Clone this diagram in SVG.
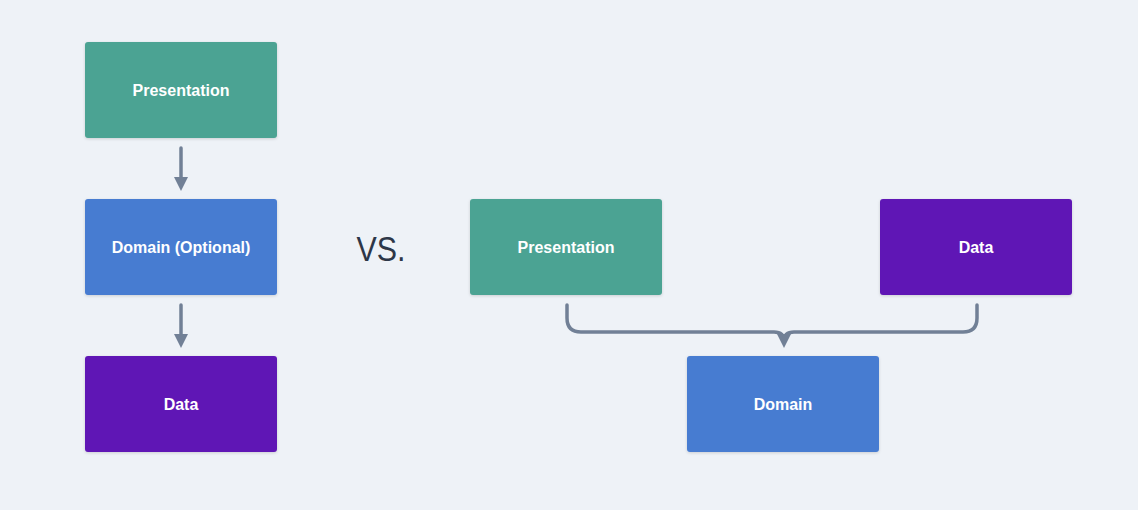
<svg xmlns="http://www.w3.org/2000/svg" width="1138" height="510" viewBox="0 0 1138 510">
<style>
.box{stroke:none;filter:url(#sh)}
.lbl{font-family:"Liberation Sans",Arial,sans-serif;font-weight:bold;font-size:16px;fill:#ffffff;text-anchor:middle;dominant-baseline:central}
.con{fill:none;stroke:#718096;stroke-width:3.5;stroke-linecap:round;stroke-linejoin:round}
.green{fill:#4ba393}.blue{fill:#477cd1}.purple{fill:#5f19b5}
</style>
<defs>
<filter id="sh" x="-10%" y="-10%" width="120%" height="130%">
<feDropShadow dx="0" dy="1" stdDeviation="1.5" flood-color="#000" flood-opacity="0.15"/>
</filter>
<marker id="ah" viewBox="0 0 10 10" refX="5" refY="5" markerWidth="4" markerHeight="4" orient="auto" markerUnits="strokeWidth">
<path d="M0,0 L10,5 L0,10 Z" fill="#718096"/>
</marker>
</defs>
<rect width="1138" height="510" fill="#eef2f7"/>
<g id="connectors">
<path class="con" d="M181,148 V184" marker-end="url(#ah)"/>
<path class="con" d="M181,305 V341" marker-end="url(#ah)"/>
<path class="con" d="M567,305 V318 Q567,332 581,332 H774 Q784,332 784,341" marker-end="url(#ah)"/>
<path class="con" d="M977,305 V318 Q977,332 963,332 H794 Q784,332 784,341"/>
</g>
<g id="presentation-left"><rect class="box green" x="85" y="42" width="192" height="96" rx="3"/><text class="lbl" x="181" y="90">Presentation</text></g>
<g id="domain-left"><rect class="box blue" x="85" y="199" width="192" height="96" rx="3"/><text class="lbl" x="181" y="247">Domain (Optional)</text></g>
<g id="data-left"><rect class="box purple" x="85" y="356" width="192" height="96" rx="3"/><text class="lbl" x="181" y="404">Data</text></g>
<g id="vs"><text x="381" y="261" font-family="Liberation Sans,Arial,sans-serif" font-size="35" fill="#2d3748" text-anchor="middle" textLength="49" lengthAdjust="spacingAndGlyphs">VS.</text></g>
<g id="presentation-right"><rect class="box green" x="470" y="199" width="192" height="96" rx="3"/><text class="lbl" x="566" y="247">Presentation</text></g>
<g id="data-right"><rect class="box purple" x="880" y="199" width="192" height="96" rx="3"/><text class="lbl" x="976" y="247">Data</text></g>
<g id="domain-right"><rect class="box blue" x="687" y="356" width="192" height="96" rx="3"/><text class="lbl" x="783" y="404">Domain</text></g>
</svg>
